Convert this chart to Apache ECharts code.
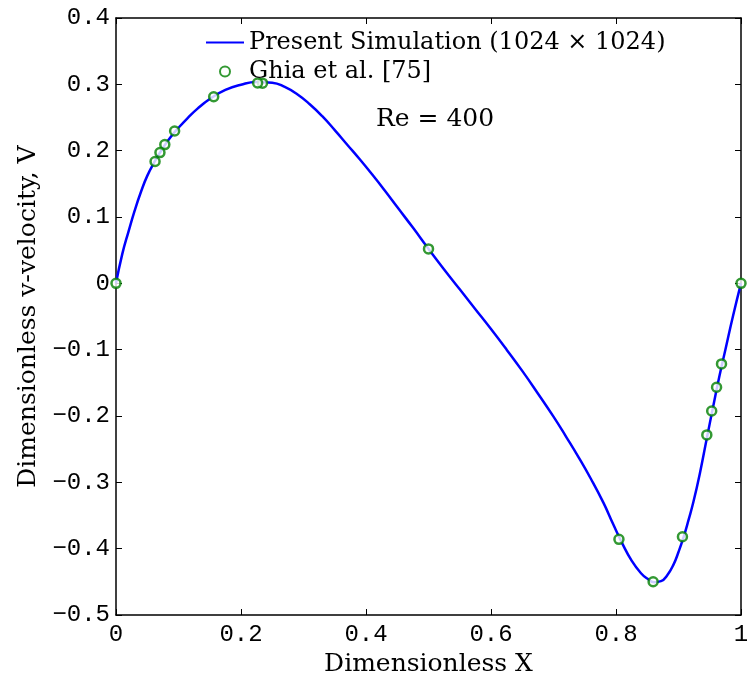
<!DOCTYPE html>
<html>
<head>
<meta charset="utf-8">
<script src="https://cdn.jsdelivr.net/npm/echarts@6/dist/echarts.min.js"></script>
<style>
  html, body { margin: 0; padding: 0; background: #fff; }
  #main { width: 748px; height: 673px; }
</style>
</head>
<body>
<div id="main"></div>
<script>
// simulation profile
const simX = [0, 0.01, 0.02, 0.03, 0.04, 0.05, 0.0625, 0.075, 0.0875, 0.1, 0.115, 0.13, 0.15, 0.175, 0.2,
  0.225, 0.25, 0.27, 0.29, 0.31, 0.33, 0.35, 0.37, 0.39, 0.41, 0.43, 0.45, 0.475, 0.5, 0.525, 0.55,
  0.575, 0.6, 0.625, 0.65, 0.675, 0.7, 0.72, 0.74, 0.76, 0.78, 0.795, 0.81, 0.825, 0.84, 0.85, 0.861,
  0.872, 0.882, 0.892, 0.9, 0.908, 0.916, 0.924, 0.9345, 0.945, 0.955, 0.965, 0.975, 0.9875, 1];
const simV = [0, 0.044, 0.078, 0.110, 0.138, 0.162, 0.1845, 0.204, 0.2205, 0.2345, 0.2495, 0.263, 0.278, 0.2915, 0.2995,
  0.3035, 0.3025, 0.296, 0.285, 0.270, 0.252, 0.231, 0.209, 0.187, 0.164, 0.140, 0.115, 0.084, 0.052, 0.021, -0.009,
  -0.039, -0.069, -0.100, -0.132, -0.166, -0.201, -0.231, -0.262, -0.295, -0.331, -0.362, -0.392, -0.418, -0.437, -0.445, -0.4505,
  -0.449, -0.440, -0.424, -0.405, -0.383, -0.357, -0.329, -0.285, -0.235, -0.188, -0.142, -0.100, -0.048, 0];

// Ghia et al. reference points
const ghiaX = [1.0, 0.9688, 0.9609, 0.9531, 0.9453, 0.9063, 0.8594, 0.8047, 0.5, 0.2344, 0.2266, 0.1563,
  0.0938, 0.0781, 0.0703, 0.0625, 0.0];
const ghiaV = [0, -0.12146, -0.15663, -0.19254, -0.22847, -0.382, -0.44993, -0.38598, 0.05186, 0.30174,
  0.30203, 0.28124, 0.22965, 0.20920, 0.19713, 0.18360, 0];

const xTicks = { min: 0, max: 1, interval: 0.2 };
const yTicks = { min: -0.5, max: 0.4, interval: 0.1 };

const serif = '"DejaVu Serif", "Liberation Serif", serif';
const mono = '"Liberation Mono", "DejaVu Sans Mono", monospace';

const fmt = (v) => {
  const r = Math.round(v * 10) / 10;
  const s = String(Math.abs(r));
  return r < 0 ? '\u2212' + s : s;
};

const boxLine = { onZero: false, lineStyle: { color: '#000', width: 1.5 } };
const boxTick = { show: true, inside: true, length: 6, lineStyle: { color: '#000' } };

const chart = echarts.init(document.getElementById('main'));

const option = {
  animation: false,
  backgroundColor: '#fff',
  grid: { left: 116, right: 7, top: 18, bottom: 58, outerBoundsMode: 'none' },
  legend: {
    orient: 'vertical',
    left: 200,
    top: 23,
    itemWidth: 38,
    itemHeight: 10,
    itemGap: 0,
    textStyle: { fontFamily: serif, fontSize: 24, color: '#000', lineHeight: 29 },
    data: [
      { name: 'Present Simulation (1024 × 1024)', itemStyle: { opacity: 0 } },
      { name: 'Ghia et al. [75]' },
    ],
  },
  graphic: [
    {
      type: 'text',
      left: 376,
      top: 107,
      style: { text: 'Re = 400', font: '25px ' + serif, fill: '#000' },
    },
  ],
  xAxis: [
    {
      type: 'value',
      ...xTicks,
      name: 'Dimensionless X',
      nameLocation: 'middle',
      nameGap: 31,
      nameTextStyle: { fontFamily: serif, fontSize: 25, color: '#000' },
      axisLine: boxLine,
      axisTick: boxTick,
      axisLabel: { fontFamily: mono, fontSize: 24, color: '#000', margin: 8, formatter: fmt },
      splitLine: { show: false },
    },
    {
      type: 'value',
      position: 'top',
      ...xTicks,
      axisLine: boxLine,
      axisTick: boxTick,
      axisLabel: { show: false },
      splitLine: { show: false },
    },
  ],
  yAxis: [
    {
      type: 'value',
      ...yTicks,
      name: 'Dimensionless v-velocity, V',
      nameLocation: 'middle',
      nameGap: 75,
      nameTextStyle: { fontFamily: serif, fontSize: 25, color: '#000' },
      axisLine: { show: true, ...boxLine },
      axisTick: boxTick,
      axisLabel: { fontFamily: mono, fontSize: 24, color: '#000', margin: 6, formatter: fmt },
      splitLine: { show: false },
    },
    {
      type: 'value',
      position: 'right',
      ...yTicks,
      axisLine: { show: true, ...boxLine },
      axisTick: boxTick,
      axisLabel: { show: false },
      splitLine: { show: false },
    },
  ],
  series: [
    {
      name: 'Present Simulation (1024 × 1024)',
      type: 'line',
      symbol: 'none',
      smooth: 0.5,
      lineStyle: { color: '#0000ff', width: 2.5 },
      itemStyle: { color: '#0000ff' },
      data: simX.map((x, i) => [x, simV[i]]),
      z: 2,
    },
    {
      name: 'Ghia et al. [75]',
      type: 'scatter',
      symbol: 'circle',
      symbolSize: 9,
      itemStyle: { color: '#ffffff', borderColor: '#008000', borderWidth: 2.5 },
      data: ghiaX.map((x, i) => [x, ghiaV[i]]),
      z: 3,
    },
  ],
};

chart.setOption(option);
</script>
</body>
</html>
